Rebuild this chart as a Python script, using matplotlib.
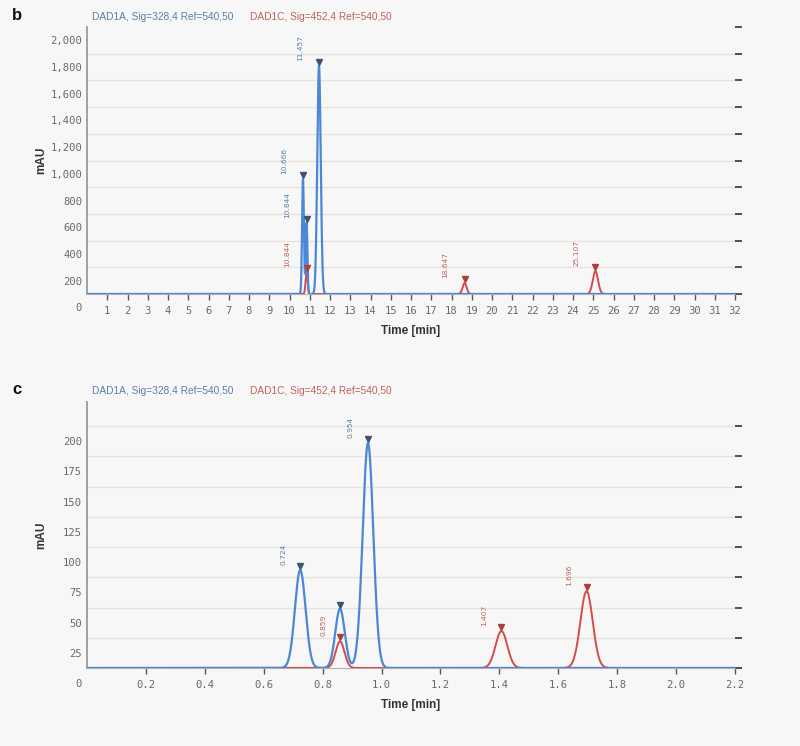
import numpy as np
import matplotlib.pyplot as plt
from matplotlib.transforms import ScaledTranslation

# ---- peak tables: retention time, height (mAU), width (sigma, min)
b_blue_t = [10.666, 10.844, 11.457]
b_blue_h = [860, 535, 1710]
b_blue_w = [0.045, 0.04, 0.085]
b_blue_lab = ["10.666", "10.844", "11.457"]

b_red_t = [10.844, 18.647, 25.107]
b_red_h = [165, 82, 172]
b_red_w = [0.05, 0.1, 0.13]
b_red_lab = ["10.844", "18.647", "25.107"]

c_blue_t = [0.724, 0.859, 0.954]
c_blue_h = [81, 49, 186]
c_blue_w = [0.018, 0.016, 0.018]
c_blue_lab = ["0.724", "", "0.954"]

c_red_t = [0.859, 1.407, 1.696]
c_red_h = [22, 30.5, 63.5]
c_red_w = [0.015, 0.02, 0.021]
c_red_lab = ["0.859", "1.407", "1.696"]

b_yticks = [0, 200, 400, 600, 800, 1000, 1200, 1400, 1600, 1800, 2000]
b_xticks = list(range(1, 33))
c_yticks = [0, 25, 50, 75, 100, 125, 150, 175, 200]
c_xticks = [0.2, 0.4, 0.6, 0.8, 1.0, 1.2, 1.4, 1.6, 1.8, 2.0, 2.2]

sig_a = "DAD1A, Sig=328,4 Ref=540,50"
sig_c = "DAD1C, Sig=452,4 Ref=540,50"

BLUE = "#4a88d6"
RED = "#d64a4a"
BLUE_TXT = "#5b7fa8"
RED_TXT = "#c0625c"
BG = "#f7f7f7"


def trace(t, times, heights, widths):
    y = np.zeros_like(t)
    for t0, h, w in zip(times, heights, widths):
        y += h * np.exp(-0.5 * ((t - t0) / w) ** 2)
    return y


fig = plt.figure(figsize=(8, 7.46), dpi=100, facecolor=BG)


def panel(rect, letter, xmax, ymax, step, yticks, xticks, xfmt, yfmt,
          blue, red, lab_dx):
    ax = fig.add_axes(rect)
    ax.set_facecolor(BG)
    t = np.linspace(0, xmax, 4000)
    # red first, blue drawn on top so it hides the red baseline
    ax.plot(t, trace(t, red[0], red[1], red[2]), color=RED, lw=1.4, zorder=3)
    ax.plot(t, trace(t, blue[0], blue[1], blue[2]), color=BLUE, lw=1.6, zorder=4)

    up = ScaledTranslation(0, 4 / 100, fig.dpi_scale_trans)
    for (times, heights, _, labels), mcol, tcol in ((blue, "#3d5573", BLUE_TXT), (red, "#a8403c", RED_TXT)):
        ax.plot(times, heights, ls="none", marker="v", ms=4, color=mcol,
                transform=ax.transData + up, zorder=5, clip_on=False)
        for t0, h, s in zip(times, heights, labels):
            if s:
                ax.annotate(s, (t0, h), xytext=(lab_dx, 5), textcoords="offset pixels",
                            rotation=90, ha="center", va="bottom", fontsize=5.4,
                            color=tcol, family="DejaVu Sans")

    ax.set_xlim(0, xmax)
    ax.set_ylim(0, ymax)
    # light grid lines between baseline and top
    for v in yticks[1:]:
        if v < ymax:
            ax.axhline(v, color="#e6e4da", lw=1.0, zorder=1)

    ax.set_yticks(yticks)
    ax.set_yticklabels([yfmt(v) for v in yticks])
    ax.set_xticks(xticks)
    ax.set_xticklabels([xfmt(v) for v in xticks])
    ax.tick_params(axis="y", left=False, right=True, length=5, width=1.2,
                   color="#333333", labelsize=7.6, labelcolor="#6a6a6a", pad=-1.5)
    ax.tick_params(axis="x", length=4, width=1.0, color="#555555",
                   labelsize=7.6, labelcolor="#6a6a6a", pad=5)
    for lbl in ax.get_yticklabels() + ax.get_xticklabels():
        lbl.set_family("DejaVu Sans Mono")
    # y labels sit half a step below their grid lines, as in the reference
    h_px = rect[3] * 746 * step / ymax
    shift = ScaledTranslation(0, -h_px / 2 / 100, fig.dpi_scale_trans)
    for lbl in ax.get_yticklabels():
        lbl.set_transform(lbl.get_transform() + shift)

    for s in ("top", "right"):
        ax.spines[s].set_visible(False)
    ax.spines["left"].set_color("#9a9a9a")
    ax.spines["left"].set_linewidth(1.3)
    ax.spines["bottom"].set_color("#b0b0b0")

    ax.set_xlabel("Time [min]", fontsize=8.5, fontweight="bold", color="#333333",
                  family="Liberation Sans", labelpad=6)
    ax.set_ylabel("mAU", fontsize=8.5, fontweight="bold", color="#333333",
                  family="Liberation Sans")
    ax.yaxis.set_label_coords(-0.062, 0.5)

    top = rect[1] + rect[3]
    fig.text(0.015, top + 0.01, letter, fontsize=12, fontweight="bold",
             family="Liberation Sans", color="#111111")
    fig.text(0.115, top + 0.01, sig_a, fontsize=7.3, color=BLUE_TXT,
             family="Liberation Sans")
    fig.text(0.3125, top + 0.01, sig_c, fontsize=7.3, color=RED_TXT,
             family="Liberation Sans")
    return ax


panel([0.10875, 0.6059, 0.81, 0.3579], "b", 32, 2000, 200, b_yticks, b_xticks,
      lambda v: f"{v}", lambda v: f"{v:,}",
      (b_blue_t, b_blue_h, b_blue_w, b_blue_lab),
      (b_red_t, b_red_h, b_red_w, b_red_lab), -19)

panel([0.10875, 0.1046, 0.81, 0.3566], "c", 2.2, 220, 25, c_yticks, c_xticks,
      lambda v: f"{v:.1f}", lambda v: f"{v}",
      (c_blue_t, c_blue_h, c_blue_w, c_blue_lab),
      (c_red_t, c_red_h, c_red_w, c_red_lab), -17)

fig.savefig("out.png", dpi=100, facecolor=BG)
